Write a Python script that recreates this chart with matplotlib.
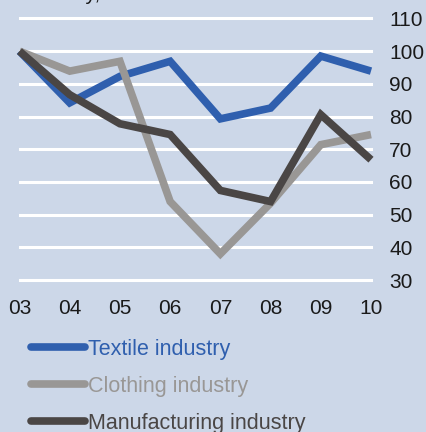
import matplotlib
matplotlib.use("Agg")
import matplotlib.pyplot as plt
from matplotlib.lines import Line2D

years = ["03", "04", "05", "06", "07", "08", "09", "10"]
textile = [100, 84.2, 92.3, 96.9, 79.3, 82.6, 98.5, 93.9]
clothing = [100, 93.9, 96.9, 54.0, 38.0, 53.5, 71.4, 74.5]
manufacturing = [100, 86.7, 77.8, 74.5, 57.4, 54.0, 80.6, 66.8]
yticks = [30, 40, 50, 60, 70, 80, 90, 100, 110]

names = ["Textile industry", "Clothing industry", "Manufacturing industry"]
colors = ["#2F5FAE", "#999795", "#4A4645"]
bg = "#CCD7E8"

plt.rcParams['font.family'] = ['Liberation Sans', 'DejaVu Sans']

fig = plt.figure(figsize=(4.27, 4.32), dpi=100, facecolor=bg)
ax = fig.add_axes([19.5 / 427, 1 - 280 / 432, (371 - 19.5) / 427, (280 - 18.5) / 432])
ax.set_facecolor(bg)

x = list(range(len(years)))
for yv in yticks:
    ax.axhline(yv, color="white", lw=2.2, zorder=1, clip_on=False)

for series, c in zip([textile, clothing, manufacturing], colors):
    ax.plot(x, series, color=c, lw=5.5, solid_capstyle="butt",
            solid_joinstyle="miter", zorder=3, clip_on=False)

ax.set_xlim(0, len(years) - 1)
ax.set_ylim(30, 110)
ax.set_xticks(x)
ax.set_xticklabels(years)
ax.set_yticks(yticks)
ax.yaxis.tick_right()
ax.tick_params(axis="both", length=0, labelsize=15, colors="#1a1a1a")
ax.tick_params(axis="y", pad=13)
ax.tick_params(axis="x", pad=14)
for s in ax.spines.values():
    s.set_visible(False)

# cut-off heading at the top edge
fig.text(100 / 427, 1 - 0.5 / 432, "Germany,", ha="right", va="baseline",
         fontsize=15, color="#1a1a1a")

handles = [Line2D([], [], color=c, lw=5.5, solid_capstyle="round") for c in colors]
leg = fig.legend(handles, names, loc="upper left",
                 bbox_to_anchor=(31 / 427, 1 - 339 / 432), frameon=False,
                 fontsize=15.5, handlelength=2.5, handletextpad=0.15,
                 labelspacing=0.74, borderaxespad=0, borderpad=0)
for t, c in zip(leg.get_texts(), colors):
    t.set_color(c)

fig.savefig("out.png", dpi=100, facecolor=bg)
